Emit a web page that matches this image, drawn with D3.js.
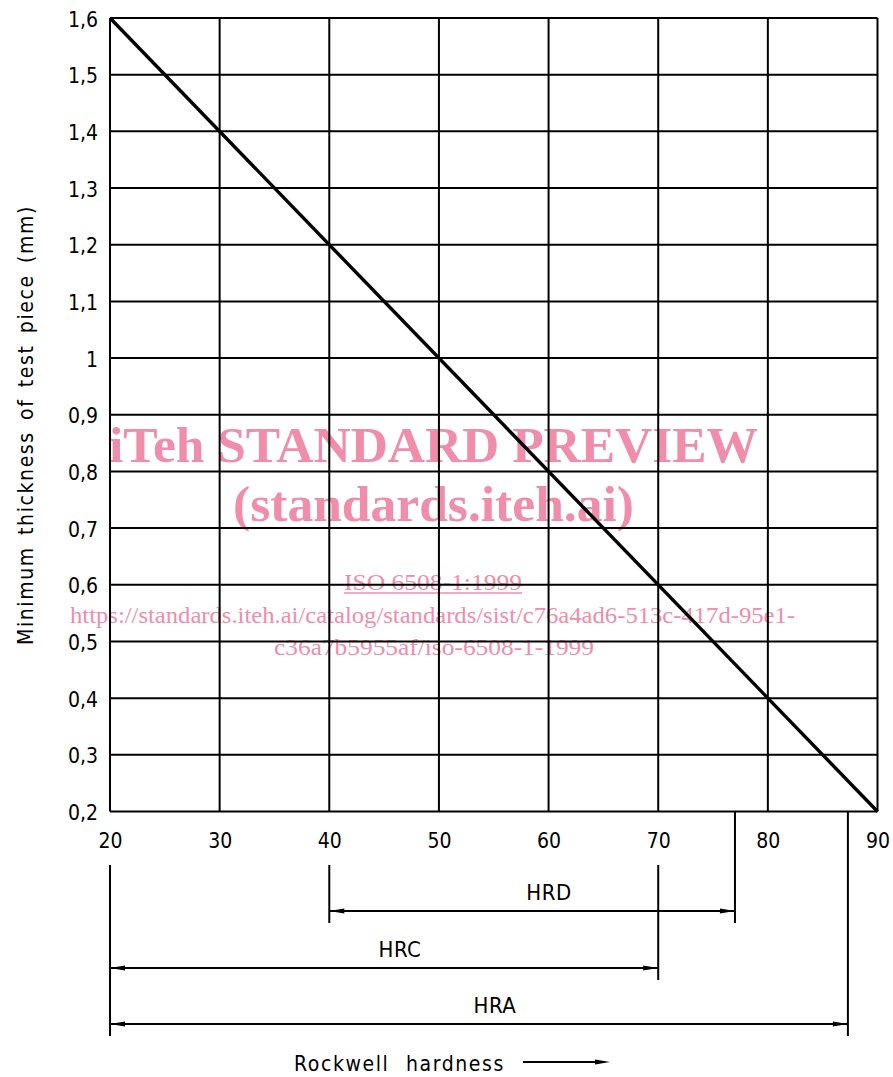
<!DOCTYPE html>
<html>
<head>
<meta charset="utf-8">
<script src="https://cdn.jsdelivr.net/npm/d3@7/dist/d3.min.js"></script>
<style>
  html, body { margin: 0; padding: 0; background: #fff; }
  svg { display: block; }
</style>
</head>
<body>
<svg id="chart" width="893" height="1077"></svg>
<script>
// ---- data ----
const xTicks = [20, 30, 40, 50, 60, 70, 80, 90];
const xTickLabels = ["20", "30", "40", "50", "60", "70", "80", "90"];
const yTicks = [0.2, 0.3, 0.4, 0.5, 0.6, 0.7, 0.8, 0.9, 1.0, 1.1, 1.2, 1.3, 1.4, 1.5, 1.6];
const yTickLabels = ["0,2", "0,3", "0,4", "0,5", "0,6", "0,7", "0,8", "0,9", "1", "1,1", "1,2", "1,3", "1,4", "1,5", "1,6"];
const lineHardness = [20, 90];
const lineThickness = [1.6, 0.2];
const scaleNames = ["HRD", "HRC", "HRA"];
const scaleFrom = [40, 20, 20];
const scaleTo = [77, 70, 87.3];
const yTitle = "Minimum thickness of test piece (mm)";
const xTitle = "Rockwell hardness";
const watermark = [
  "iTeh STANDARD PREVIEW",
  "(standards.iteh.ai)",
  "ISO 6508-1:1999",
  "https://standards.iteh.ai/catalog/standards/sist/c76a4ad6-513c-417d-95e1-",
  "c36a7b5955af/iso-6508-1-1999"
];

// ---- layout ----
const svg = d3.select("#chart");
const x = d3.scaleLinear().domain([20, 90]).range([110, 877.5]);
const y = d3.scaleLinear().domain([0.2, 1.6]).range([811.5, 18]);
const FONT = "'DejaVu Sans Condensed', 'DejaVu Sans', sans-serif";
const PINK = "#ef8dab";

// watermark (beneath the drawing)
const wm = [
  { x: 109, y: 462, size: 50, w: 649, weight: "bold" },
  { x: 233, y: 521, size: 50, w: 401, weight: "bold" },
  { x: 344, y: 590, size: 23, w: 178, weight: "normal", underline: true },
  { x: 70, y: 623, size: 23, w: 725, weight: "normal" },
  { x: 274, y: 655, size: 23, w: 320, weight: "normal" }
];
const wg = svg.append("g");
watermark.forEach((t, i) => {
  const o = wm[i];
  wg.append("text")
    .attr("x", o.x).attr("y", o.y)
    .attr("font-family", "'Liberation Serif', 'Times New Roman', serif")
    .attr("font-size", o.size)
    .attr("font-weight", o.weight)
    .attr("fill", PINK)
    .attr("textLength", o.w)
    .attr("lengthAdjust", "spacingAndGlyphs")
    .text(t);
  if (o.underline) {
    wg.append("line")
      .attr("x1", o.x).attr("x2", o.x + o.w)
      .attr("y1", o.y + 3).attr("y2", o.y + 3)
      .attr("stroke", PINK).attr("stroke-width", 1.3);
  }
});

// grid
const grid = svg.append("g").attr("stroke", "#000").attr("stroke-width", 2).attr("fill", "none");
grid.selectAll("line.v").data(xTicks).join("line")
  .attr("x1", d => x(d)).attr("x2", d => x(d))
  .attr("y1", y(1.6)).attr("y2", y(0.2));
grid.selectAll("line.h").data(yTicks).join("line")
  .attr("x1", x(20)).attr("x2", x(90))
  .attr("y1", d => y(d)).attr("y2", d => y(d));

// axes (labels only)
const xAxis = d3.axisBottom(x).tickValues(xTicks)
  .tickFormat((d, i) => xTickLabels[i]).tickSize(0).tickPadding(0);
const gx = svg.append("g").attr("transform", `translate(0, ${y(0.2)})`).call(xAxis);
gx.select(".domain").remove();
gx.selectAll("text").attr("font-family", FONT).attr("font-size", 21)
  .attr("fill", "#000").attr("dy", null).attr("y", 36.5);

const yAxis = d3.axisLeft(y).tickValues(yTicks)
  .tickFormat((d, i) => yTickLabels[i]).tickSize(0).tickPadding(0);
const gy = svg.append("g").attr("transform", `translate(${x(20)}, 0)`).call(yAxis);
gy.select(".domain").remove();
gy.selectAll("text").attr("font-family", FONT).attr("font-size", 21)
  .attr("fill", "#000").attr("x", -12).attr("dy", null).attr("y", 8);

// diagonal line
svg.append("path")
  .datum(lineHardness.map((h, i) => [h, lineThickness[i]]))
  .attr("d", d3.line().x(d => x(d[0])).y(d => y(d[1])))
  .attr("stroke", "#000").attr("stroke-width", 3.4).attr("fill", "none");

// fit text to a width: letter spacing, remaining slack in word gaps
function fitWords(sel, width, ls) {
  sel.attr("letter-spacing", ls);
  const natural = sel.node().getBBox().width;
  const gaps = (sel.text().match(/ /g) || []).length;
  if (gaps > 0) sel.attr("word-spacing", Math.max(0, (width - natural) / gaps));
}

// y title
const yt = svg.append("text")
  .attr("transform", `translate(33, 425) rotate(-90)`)
  .attr("text-anchor", "middle")
  .attr("font-family", FONT).attr("font-size", 21)
  .text(yTitle);
fitWords(yt, 440, 1.6);

// dimension rows
const rowY = [911, 968, 1024];
const labelX = [549, 400, 495];
const dim = svg.append("g");
function arrowHead(px, py, dir) {
  const L = 15, W = 2.6;
  return `M${px},${py}L${px - dir * L},${py - W}L${px - dir * L},${py + W}Z`;
}
// extension lines
const extEnds = {};
scaleNames.forEach((n, i) => {
  [scaleFrom[i], scaleTo[i]].forEach(v => {
    extEnds[v] = Math.max(extEnds[v] || 0, rowY[i] + 12);
  });
});
Object.keys(extEnds).map(Number).forEach(v => {
  const onTick = xTicks.includes(v);
  dim.append("line")
    .attr("x1", x(v)).attr("x2", x(v))
    .attr("y1", onTick ? 865 : y(0.2)).attr("y2", extEnds[v])
    .attr("stroke", "#000").attr("stroke-width", 2);
});
scaleNames.forEach((n, i) => {
  const x1 = x(scaleFrom[i]), x2 = x(scaleTo[i]), ry = rowY[i];
  dim.append("line").attr("x1", x1).attr("x2", x2).attr("y1", ry).attr("y2", ry)
    .attr("stroke", "#000").attr("stroke-width", 2);
  dim.append("path").attr("d", arrowHead(x1, ry, -1)).attr("fill", "#000");
  dim.append("path").attr("d", arrowHead(x2, ry, 1)).attr("fill", "#000");
  dim.append("text").attr("x", labelX[i]).attr("y", ry - 11)
    .attr("text-anchor", "middle").attr("font-family", FONT).attr("font-size", 22)
    .attr("letter-spacing", 0.5)
    .text(n);
});

// x title with arrow
const xt = svg.append("text")
  .attr("x", 294).attr("y", 1071)
  .attr("font-family", FONT).attr("font-size", 21)
  .text(xTitle);
fitWords(xt, 211, 1.6);
svg.append("line").attr("x1", 523).attr("x2", 600).attr("y1", 1062).attr("y2", 1062)
  .attr("stroke", "#000").attr("stroke-width", 2);
svg.append("path").attr("d", arrowHead(610, 1062, 1)).attr("fill", "#000");
</script>
</body>
</html>
